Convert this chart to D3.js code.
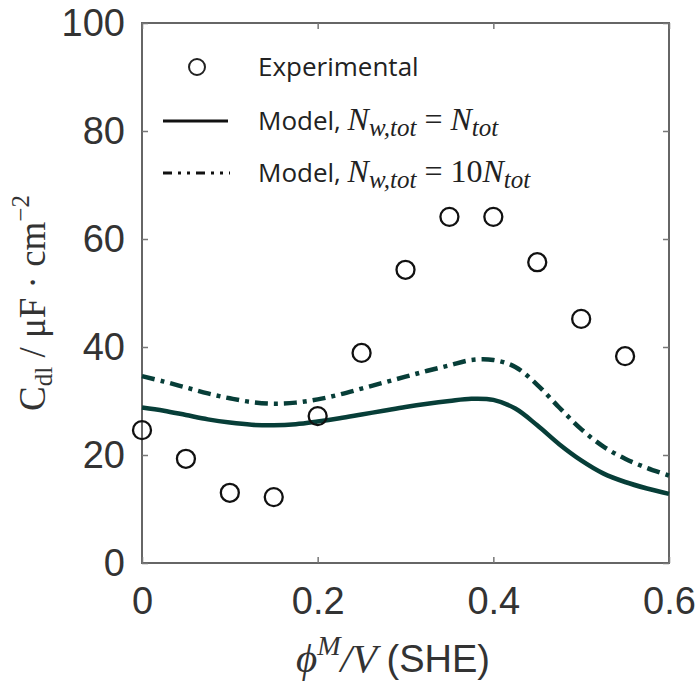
<!DOCTYPE html>
<html>
<head>
<meta charset="utf-8">
<script src="https://cdn.jsdelivr.net/npm/d3@7"></script>
<style>
  body { margin: 0; background: #fff; }
  svg { display: block; }
</style>
</head>
<body>
<svg id="canvas" width="698" height="684"></svg>
<script>
// data
let expX = [0, 0.05, 0.1, 0.15, 0.2, 0.25, 0.3, 0.35, 0.4, 0.45, 0.5, 0.55];
let expY = [24.6, 19.3, 13.0, 12.2, 27.2, 38.9, 54.3, 64.1, 64.1, 55.7, 45.2, 38.3];

let modelX = [0, 0.025, 0.05, 0.075, 0.1, 0.125, 0.15, 0.175, 0.2, 0.225, 0.25, 0.275, 0.3,
  0.325, 0.35, 0.375, 0.4, 0.425, 0.45, 0.475, 0.5, 0.525, 0.55, 0.575, 0.6];
let model1 = [28.8, 28.2, 27.4, 26.6, 26.0, 25.6, 25.5, 25.7, 26.2, 26.8, 27.5, 28.2, 28.9,
  29.5, 30.0, 30.4, 30.2, 28.6, 25.5, 22.0, 19.0, 16.6, 15.0, 13.8, 12.8];
let model10 = [34.6, 33.6, 32.5, 31.4, 30.5, 29.8, 29.5, 29.7, 30.3, 31.2, 32.3, 33.4, 34.5,
  35.6, 36.6, 37.6, 37.6, 36.3, 33.0, 28.8, 24.8, 21.6, 19.3, 17.6, 16.2];

let xTicks = [0, 0.2, 0.4, 0.6];
let yTicks = [0, 20, 40, 60, 80, 100];

let canvas = d3.select('#canvas');

let plotLeft = 142, plotRight = 669, plotTop = 23, plotBottom = 563;
let lineColor = '#073e38';
let dashDot = '13,6,4,6';

let xScale = d3.scaleLinear().domain([0, 0.6]).range([plotLeft, plotRight]);
let yScale = d3.scaleLinear().domain([0, 100]).range([plotBottom, plotTop]);

let drawChart = () => {
  // box
  canvas.append('rect')
    .attr('x', plotLeft).attr('y', plotTop)
    .attr('width', plotRight - plotLeft).attr('height', plotBottom - plotTop)
    .attr('fill', 'none')
    .attr('stroke', '#666')
    .attr('stroke-width', 2);

  let fmt = d3.format('~g');

  // axes with inward ticks
  canvas.append('g')
    .attr('transform', 'translate(0,' + plotBottom + ')')
    .call(d3.axisBottom(xScale).tickValues(xTicks).tickFormat(fmt).tickSizeInner(-6).tickSizeOuter(0).tickPadding(24))
  canvas.append('g')
    .attr('transform', 'translate(0,' + plotTop + ')')
    .call(d3.axisTop(xScale).tickValues(xTicks).tickSizeInner(-6).tickSizeOuter(0).tickFormat(''))
  canvas.append('g')
    .attr('transform', 'translate(' + plotLeft + ',0)')
    .call(d3.axisLeft(yScale).tickValues(yTicks).tickFormat(fmt).tickSizeInner(-6).tickSizeOuter(0).tickPadding(17))
  canvas.append('g')
    .attr('transform', 'translate(' + plotRight + ',0)')
    .call(d3.axisRight(yScale).tickValues(yTicks).tickSizeInner(-6).tickSizeOuter(0).tickFormat(''))

  canvas.selectAll('.domain').remove();
  canvas.selectAll('.tick line').attr('stroke', '#777').attr('stroke-width', 1.5);
  canvas.selectAll('.tick text')
    .attr('fill', '#333')
    .style('font-family', '"Liberation Sans", Arial, sans-serif')
    .style('font-size', '38px');

  // model curves
  let line1 = d3.line()
    .x((d, i) => xScale(modelX[i]))
    .y((d) => yScale(d))
    .curve(d3.curveCatmullRom);

  canvas.append('path')
    .datum(model10)
    .attr('d', line1)
    .attr('fill', 'none')
    .attr('stroke', lineColor)
    .attr('stroke-width', 4.5)
    .attr('stroke-dasharray', dashDot);

  canvas.append('path')
    .datum(model1)
    .attr('d', line1)
    .attr('fill', 'none')
    .attr('stroke', lineColor)
    .attr('stroke-width', 4.5);

  // experimental points
  canvas.selectAll('circle.exp')
    .data(expY)
    .enter()
    .append('circle')
    .attr('class', 'exp')
    .attr('cx', (d, i) => xScale(expX[i]))
    .attr('cy', (d) => yScale(d))
    .attr('r', 9)
    .attr('fill', 'none')
    .attr('stroke', '#111')
    .attr('stroke-width', 2.3);

  // legend
  let legend = canvas.append('g');
  let textFont = '"Open Sans", sans-serif';
  let mathFont = '"Liberation Serif", "Times New Roman", serif';

  legend.append('circle')
    .attr('cx', 197).attr('cy', 67).attr('r', 8)
    .attr('fill', 'none').attr('stroke', '#222').attr('stroke-width', 2);
  legend.append('text')
    .attr('x', 258).attr('y', 76)
    .style('font-family', textFont).style('font-size', '26px').attr('fill', '#222')
    .text('Experimental');

  legend.append('line')
    .attr('x1', 163).attr('x2', 228).attr('y1', 121).attr('y2', 121)
    .attr('stroke', '#111').attr('stroke-width', 3);
  legend.append('line')
    .attr('x1', 163).attr('x2', 230).attr('y1', 173).attr('y2', 173)
    .attr('stroke', '#111').attr('stroke-width', 3)
    .attr('stroke-dasharray', '9,6,3,6,3,6');

  let modelLabel = (y, coef) => {
    let t = legend.append('text')
      .attr('x', 258).attr('y', y)
      .attr('fill', '#222')
      .style('font-size', '26px');
    t.append('tspan').style('font-family', textFont).text('Model, ');
    t.append('tspan').style('font-family', mathFont).style('font-style', 'italic').style('font-size', '32px').text('N');
    t.append('tspan').style('font-family', mathFont).style('font-style', 'italic').style('font-size', '25px')
      .attr('dy', 6).text('w,tot');
    t.append('tspan').style('font-family', mathFont).style('font-size', '32px')
      .attr('dy', -6).text(' = ' + coef);
    t.append('tspan').style('font-family', mathFont).style('font-style', 'italic').style('font-size', '32px').text('N');
    t.append('tspan').style('font-family', mathFont).style('font-style', 'italic').style('font-size', '25px')
      .attr('dy', 6).text('tot');
  };
  modelLabel(130, '');
  modelLabel(182, '10');

  // x axis title
  let xt = canvas.append('text')
    .attr('x', 393).attr('y', 672)
    .attr('text-anchor', 'middle')
    .attr('fill', '#333');
  xt.append('tspan').style('font-family', mathFont).style('font-style', 'italic').style('font-size', '41px').text('ϕ');
  xt.append('tspan').style('font-family', mathFont).style('font-style', 'italic').style('font-size', '28px')
    .attr('dy', -17).text('M');
  xt.append('tspan').style('font-family', mathFont).style('font-style', 'italic').style('font-size', '41px')
    .attr('dy', 17).text('/V ');
  xt.append('tspan').style('font-family', '"Liberation Sans", Arial, sans-serif').style('font-size', '38px').text('(SHE)');

  // y axis title
  let yt = canvas.append('text')
    .attr('transform', 'translate(45,' + 303 + ') rotate(-90)')
    .attr('text-anchor', 'middle')
    .attr('fill', '#333')
    .style('font-family', mathFont);
  yt.append('tspan').style('font-size', '37px').text('C');
  yt.append('tspan').style('font-size', '25px').attr('dy', 7).text('dl');
  yt.append('tspan').style('font-size', '37px').attr('dy', -7).text(' / μF · cm');
  yt.append('tspan').style('font-size', '25px').attr('dy', -16).text('−2');
};

drawChart();
</script>
</body>
</html>
